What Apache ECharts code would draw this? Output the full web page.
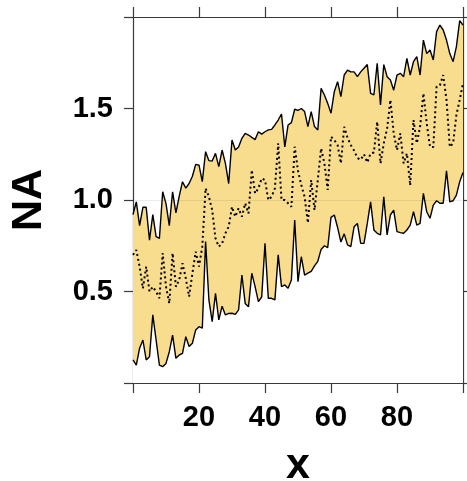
<!DOCTYPE html>
<html>
<head>
<meta charset="utf-8">
<script src="https://cdn.jsdelivr.net/npm/echarts@6/dist/echarts.min.js"></script>
<style>
html,body{margin:0;padding:0;background:#fff;}
#c{width:467px;height:481px;}
</style>
</head>
<body>
<div id="c"></div>
<script>
var xValues = [];
for (var i = 0; i <= 100; i++) xValues.push(i);

var upperValues = [0.92,0.99,0.86,0.96,0.96,0.78,0.92,0.80,0.79,1.045,
0.98,0.86,1.045,0.93,1.02,1.10,1.065,1.09,1.13,1.195,
1.19,1.10,1.264,1.215,1.213,1.255,1.182,1.273,1.20,1.09,
1.328,1.273,1.29,1.337,1.364,1.355,1.342,1.33,1.373,1.36,
1.373,1.383,1.386,1.41,1.437,1.47,1.29,1.41,1.423,1.496,
1.49,1.50,1.483,1.401,1.483,1.401,1.383,1.61,1.574,1.528,
1.474,1.592,1.647,1.565,1.683,1.71,1.70,1.70,1.674,1.70,
1.72,1.74,1.583,1.574,1.747,1.52,1.74,1.674,1.656,1.60,
1.683,1.692,1.674,1.774,1.683,1.756,1.783,1.683,1.874,1.80,
1.82,1.765,1.92,1.956,1.929,1.874,1.80,1.756,1.838,1.98,1.956];

var lowerValues = [0.126,0.098,0.19,0.235,0.126,0.144,0.372,0.235,0.098,0.089,
0.107,0.171,0.262,0.135,0.153,0.162,0.253,0.20,0.217,0.29,
0.308,0.30,0.773,0.454,0.335,0.49,0.345,0.42,0.372,0.38,
0.381,0.375,0.40,0.59,0.435,0.417,0.60,0.527,0.445,0.47,
0.763,0.463,0.463,0.454,0.70,0.527,0.536,0.518,0.563,0.891,
0.554,0.69,0.59,0.60,0.61,0.64,0.665,0.73,0.75,0.74,
0.905,0.918,0.85,0.77,0.815,0.755,0.745,0.854,0.872,0.763,
0.763,0.872,0.99,0.836,0.818,0.809,1.018,0.809,0.918,0.945,
0.827,0.822,0.818,0.836,0.863,0.936,0.863,0.872,1.036,0.936,
0.90,0.972,0.996,0.982,0.982,1.16,0.99,0.996,1.027,1.10,1.15];

var middleValues = [0.70,0.727,0.636,0.517,0.636,0.50,0.526,0.50,0.463,0.71,
0.526,0.435,0.71,0.526,0.563,0.654,0.572,0.472,0.599,0.718,
0.636,0.745,1.064,1.018,0.945,0.79,0.745,0.763,0.818,0.854,
0.963,0.909,0.954,0.909,0.982,0.927,1.164,1.036,1.064,1.118,
1.109,1.0,1.018,1.064,1.31,1.0,1.0,0.982,0.963,1.291,
1.16,1.082,1.018,0.874,1.109,0.945,1.109,1.282,1.20,1.055,
1.346,1.328,1.30,1.20,1.40,1.34,1.30,1.27,1.23,1.22,
1.25,1.205,1.255,1.26,1.428,1.20,1.31,1.39,1.547,1.364,
1.273,1.364,1.20,1.255,1.08,1.437,1.31,1.40,1.583,1.419,
1.29,1.29,1.62,1.628,1.683,1.547,1.29,1.31,1.465,1.547,1.638];

var xTicks = [20, 40, 60, 80];
var yTicks = [0.5, 1.0, 1.5];

function pairs(ys) { return xValues.map(function (x, i) { return [x, ys[i]]; }); }

var FONT = '"Liberation Sans", Arial, Helvetica, sans-serif';
var AX = '#3a3a3a';

var chart = echarts.init(document.getElementById('c'), null, {renderer: 'canvas'});
var commonX = {
  type: 'value', min: 0, max: 100, interval: 20,
  axisLine: {show: true, onZero: false, lineStyle: {color: AX, width: 1.2}},
  axisTick: {show: true, inside: false, length: 10, lineStyle: {color: AX, width: 1.2}},
  splitLine: {show: false}
};
var commonY = {
  type: 'value', min: 0, max: 2, interval: 0.5,
  axisLine: {show: true, onZero: false, lineStyle: {color: AX, width: 1.2}},
  axisTick: {show: true, inside: false, length: 9, lineStyle: {color: AX, width: 1.2}},
  splitLine: {show: false}
};
chart.setOption({
  animation: false,
  backgroundColor: '#fff',
  grid: {left: 133, right: 4, top: 17, bottom: 98, containLabel: false, outerBoundsMode: 'none'},
  xAxis: [
    Object.assign({}, commonX, {
      position: 'bottom',
      name: 'x', nameLocation: 'middle', nameGap: 62,
      nameTextStyle: {fontFamily: FONT, fontWeight: 'bold', fontSize: 43, color: '#000'},
      axisLabel: {
        show: true, margin: 20, color: '#000', fontFamily: FONT, fontWeight: 'bold', fontSize: 29,
        formatter: function (v) { return xTicks.indexOf(v) >= 0 ? String(v) : ''; }
      }
    }),
    Object.assign({}, commonX, {position: 'top', axisLabel: {show: false}})
  ],
  yAxis: [
    Object.assign({}, commonY, {
      position: 'left',
      name: 'NA', nameLocation: 'middle', nameGap: 82, nameRotate: 90,
      nameTextStyle: {fontFamily: FONT, fontWeight: 'bold', fontSize: 43, color: '#000'},
      axisLabel: {
        show: true, margin: 20, color: '#000', fontFamily: FONT, fontWeight: 'bold', fontSize: 29,
        formatter: function (v) {
          for (var k = 0; k < yTicks.length; k++) if (Math.abs(yTicks[k] - v) < 1e-9) return v.toFixed(1);
          return '';
        }
      }
    }),
    Object.assign({}, commonY, {position: 'right', axisLabel: {show: false}})
  ],
  series: [
    {
      type: 'line', data: pairs(upperValues), symbol: 'none',
      lineStyle: {opacity: 0}, areaStyle: {color: '#f9dd8f', opacity: 1, origin: 'start'},
      silent: true, z: 1
    },
    {
      type: 'line', data: pairs(lowerValues), symbol: 'none',
      lineStyle: {opacity: 0}, areaStyle: {color: '#ffffff', opacity: 1, origin: 'start'},
      silent: true, z: 2
    },
    {
      type: 'line', data: pairs(upperValues), symbol: 'none',
      lineStyle: {color: '#000', width: 1.4}, z: 3,
      markLine: {
        silent: true, symbol: 'none', label: {show: false},
        lineStyle: {color: 'rgba(0,0,0,0.08)', width: 1, type: 'solid'},
        data: [{yAxis: 1.0}]
      }
    },
    {
      type: 'line', data: pairs(lowerValues), symbol: 'none',
      lineStyle: {color: '#000', width: 1.4}, z: 3
    },
    {
      type: 'line', data: pairs(middleValues), symbol: 'none',
      lineStyle: {color: '#000', width: 2, type: [2, 3]}, z: 4
    }
  ]
});
</script>
</body>
</html>
